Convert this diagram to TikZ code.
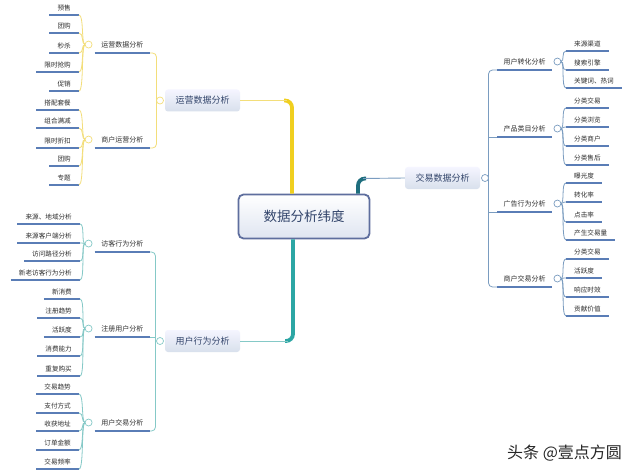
\documentclass[tikz,border=0pt]{standalone}
\usepackage{fontspec}
\setmainfont{Noto Sans CJK SC}
\usetikzlibrary{calc}
\definecolor{yelT}{HTML}{F0CF1F}
\definecolor{yelC}{HTML}{F3DE7A}
\definecolor{tealT}{HTML}{2CA6A4}
\definecolor{tealC}{HTML}{85C9C7}
\definecolor{dtealT}{HTML}{1E6E7E}
\definecolor{blueC}{HTML}{7A9CC0}
\definecolor{ulc}{HTML}{5A7DB6}
\definecolor{txtc}{HTML}{2E2E2E}
\definecolor{mtxt}{HTML}{33456B}
\definecolor{cbord}{HTML}{5E6E9E}
\definecolor{boxbot}{HTML}{D8E0EC}
\definecolor{rootbot}{HTML}{DFE5F1}
\begin{document}
\begin{tikzpicture}[x=1pt,y=-1pt,
  uline/.style={draw=ulc,line width=1.6pt},
  leafL/.style={anchor=south east,inner xsep=8pt,inner ysep=3.5pt,text=txtc,
    font=\fontsize{6.6}{7}\selectfont,
    append after command={(\tikzlastnode.south west) edge[uline] (\tikzlastnode.south east)}},
  leafR/.style={leafL,anchor=south west},
  subL/.style={anchor=south east,inner xsep=6.5pt,inner ysep=5pt,text=txtc,
    font=\fontsize{7}{8}\selectfont,
    append after command={(\tikzlastnode.south west) edge[uline] (\tikzlastnode.south east)}},
  subR/.style={subL,anchor=south west},
  mainbox/.style={rounded corners=3pt,top color=white!96!blue,bottom color=boxbot,
    minimum width=75pt,minimum height=22pt,inner sep=0pt,text=mtxt,
    font=\fontsize{9}{10}\selectfont},
  central/.style={rounded corners=5pt,draw=cbord,line width=1.8pt,top color=white,
    bottom color=rootbot,minimum width=131pt,minimum height=44pt,text=mtxt,
    font=\fontsize{13.5}{15}\selectfont},
  conY/.style={draw=yelC,line width=0.8pt},
  conT/.style={draw=tealC,line width=0.8pt},
  conB/.style={draw=blueC,line width=0.8pt},
  knob/.style={fill=white,line width=0.7pt},
]
\useasboundingbox (0,0) rectangle (640,476);
\fill[white] (0,0) rectangle (640,476);

% central and main nodes
\node[central] (root) at (304,216.5) {数据分析纬度};
\node[mainbox] (m1) at (202.5,100.5) {运营数据分析};
\node[mainbox] (m2) at (202.5,341) {用户行为分析};
\node[mainbox] (m3) at (442.5,178) {交易数据分析};

% thick main connectors
\draw[yelT,line width=3.8pt,rounded corners=7pt] ([xshift=-12pt]root.north) |- (284,100.5);
\draw[yelC,line width=0.9pt] (m1.east) -- (287,100.5);
\draw[tealT,line width=3.8pt,rounded corners=7pt] ([xshift=-11pt]root.south) |- (285,341);
\draw[tealC,line width=0.9pt] (m2.east) -- (288,341);
\draw[dtealT,line width=3.8pt,rounded corners=7pt] ([xshift=54pt]root.north) |- (366,178.5);
\draw[blueC,line width=0.9pt] (m3.west) -- (363,178.5);

% main knobs
\coordinate (k1) at (160,100.5);
\coordinate (k2) at (160,341);
\coordinate (k3) at (485,178);

% sub nodes left
\node[subL] (s1) at (150,53) {运营数据分析};
\node[subL] (s2) at (150,148) {商户运营分析};
\node[subL] (s3) at (150,252) {访客行为分析};
\node[subL] (s4) at (150,337) {注册用户分析};
\node[subL] (s5) at (150,431) {用户交易分析};
% sub nodes right
\node[subR] (r1) at (497,70) {用户转化分析};
\node[subR] (r2) at (497,137) {产品类目分析};
\node[subR] (r3) at (497,212) {广告行为分析};
\node[subR] (r4) at (497,287) {商户交易分析};

% trunks
\draw[conY,rounded corners=4pt] (s1.south east) -- (156.5,53) -- (156.5,148) -- (s2.south east);
\draw[conT,rounded corners=4pt] (s3.south east) -- (155.5,252) -- (155.5,431) -- (s5.south east);
\draw[conT] (155.5,337) -- (s4.south east);
\draw[conB,rounded corners=4pt] (r1.south west) -- (488.5,70) -- (488.5,287) -- (r4.south west);
\draw[conB] (488.5,137) -- (r2.south west);
\draw[conB] (488.5,212) -- (r3.south west);

% sub knobs
\coordinate (ka) at ([xshift=-6pt]s1.west);
\coordinate (kb) at ([xshift=-6pt]s2.west);
\coordinate (kc) at ([xshift=-6pt]s3.west);
\coordinate (kd) at ([xshift=-6pt]s4.west);
\coordinate (ke) at ([xshift=-6pt]s5.west);
\coordinate (kf) at ([xshift=5pt]r1.east);
\coordinate (kg) at ([xshift=5pt]r2.east);
\coordinate (kh) at ([xshift=5pt]r3.east);
\coordinate (ki) at ([xshift=5pt]r4.east);

% leaves left
\foreach \t/\y [count=\i] in {预售/15,团购/33,秒杀/53,限时抢购/72,促销/91}{
  \node[leafL] (a\i) at (79,\y) {\t};
  \draw[conY] ([xshift=-3.5pt]ka) .. controls +(-4,0) and +(5,0) .. (a\i.south east);}
\foreach \t/\y [count=\i] in {搭配套餐/110,组合满减/128,限时折扣/148,团购/166,专题/185}{
  \node[leafL] (b\i) at (79,\y) {\t};
  \draw[conY] ([xshift=-3.5pt]kb) .. controls +(-4,0) and +(5,0) .. (b\i.south east);}
\foreach \t/\y [count=\i] in {来源、地域分析/224,来源客户端分析/243,访问路径分析/261,新老访客行为分析/280}{
  \node[leafL] (c\i) at (80,\y) {\t};
  \draw[conT] ([xshift=-3.5pt]kc) .. controls +(-4,0) and +(5,0) .. (c\i.south east);}
\foreach \t/\y [count=\i] in {新消费/299,注册趋势/318,活跃度/337,消费能力/356,重复购买/376}{
  \node[leafL] (d\i) at (80,\y) {\t};
  \draw[conT] ([xshift=-3.5pt]kd) .. controls +(-4,0) and +(5,0) .. (d\i.south east);}
\foreach \t/\y [count=\i] in {交易趋势/394,支付方式/413,收获地址/431,订单金额/450,交易频率/469}{
  \node[leafL] (e\i) at (79,\y) {\t};
  \draw[conT] ([xshift=-3.5pt]ke) .. controls +(-4,0) and +(5,0) .. (e\i.south east);}

% leaves right
\foreach \t/\y [count=\i] in {来源渠道/51,搜索引擎/70,关键词、热词/88}{
  \node[leafR] (f\i) at (566,\y) {\t};
  \draw[conB] ([xshift=3.5pt]kf) .. controls +(4,0) and +(-5,0) .. (f\i.south west);}
\foreach \t/\y [count=\i] in {分类交易/108,分类浏览/127,分类商户/146,分类售后/165}{
  \node[leafR] (g\i) at (566,\y) {\t};
  \draw[conB] ([xshift=3.5pt]kg) .. controls +(4,0) and +(-5,0) .. (g\i.south west);}
\foreach \t/\y [count=\i] in {曝光度/183,转化率/202,点击率/222,产生交易量/240}{
  \node[leafR] (h\i) at (566,\y) {\t};
  \draw[conB] ([xshift=3.5pt]kh) .. controls +(4,0) and +(-5,0) .. (h\i.south west);}
\foreach \t/\y [count=\i] in {分类交易/259,活跃度/278,响应时效/297,贡献价值/316}{
  \node[leafR] (i\i) at (566,\y) {\t};
  \draw[conB] ([xshift=3.5pt]ki) .. controls +(4,0) and +(-5,0) .. (i\i.south west);}

% knobs drawn on top
\foreach \k in {k1,ka,kb}{\draw[knob,draw=yelC] (\k) circle (3.5pt);}
\foreach \k in {k2,kc,kd,ke}{\draw[knob,draw=tealC] (\k) circle (3.5pt);}
\foreach \k in {k3,kf,kg,kh,ki}{\draw[knob,draw=blueC] (\k) circle (3.5pt);}

% watermark
\node[anchor=west,inner sep=0pt,text=black!85,font=\fontsize{16}{18}\selectfont] (wm) at (507,453) {头条 @壹点方圆};
\end{tikzpicture}
\end{document}
